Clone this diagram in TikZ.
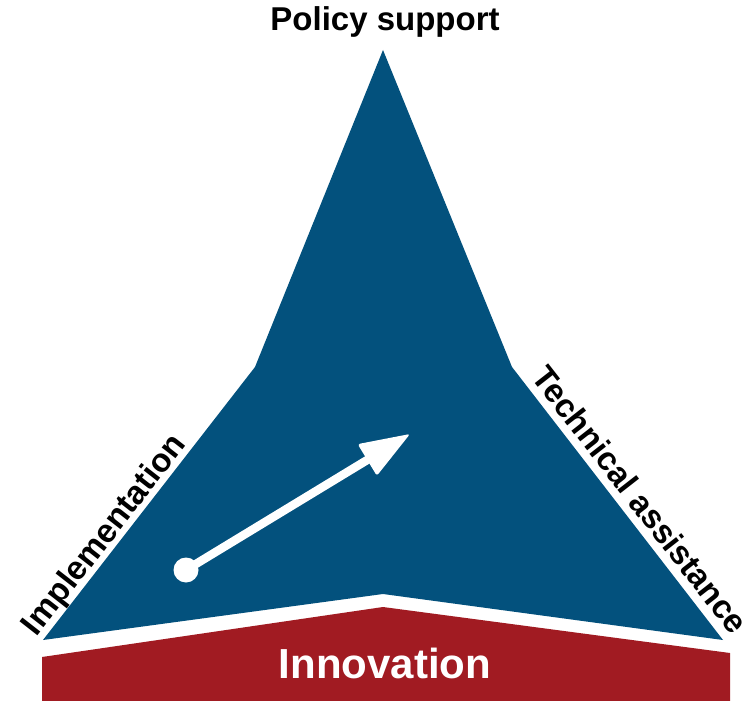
\documentclass[tikz,border=0pt]{standalone}
\usepackage{fontspec}
\setmainfont{Liberation Sans}
\usetikzlibrary{calc}
\definecolor{tblue}{RGB}{3,81,125}
\definecolor{tred}{RGB}{161,27,34}
\begin{document}
\begin{tikzpicture}[x=1pt,y=-1pt,
  lbl/.style={font=\fontsize{33}{36}\selectfont\bfseries, inner sep=0pt, text=black, anchor=base},
  bigwhite/.style={font=\fontsize{42}{46}\selectfont\bfseries, inner sep=0pt, text=white, anchor=base}]
\useasboundingbox (0,0) rectangle (753,701);
% blue star-triangle
\fill[tblue] (383,50) -- (512,367) -- (723,640) -- (383,594) -- (43,640) -- (255,367) -- cycle;
% red base
\fill[tred] (42,657) -- (383,607) -- (730,653) -- (730,701) -- (42,701) -- cycle;
% labels
\node[lbl] (policy) at (385,31) {Policy support};
\node[lbl, rotate=52] (impl) at (112,541) {Implementation};
\node[lbl, rotate=-52] (tech) at (631,507) {Technical assistance};
\node[bigwhite] (innov) at (385,678) {Innovation};
% arrow
\coordinate (astart) at (186,570);
\coordinate (atip) at (410,434);
\coordinate (hb) at ($(atip)!50pt!(astart)$);
\coordinate (w1) at ($(hb)!18.5pt!90:(atip)$);
\coordinate (w2) at ($(hb)!18.5pt!-90:(atip)$);
\fill[white] (astart) circle (12.5);
\draw[white, line width=8.5pt] (astart) -- ($(atip)!42pt!(astart)$);
\fill[white, rounded corners=2.5pt] (atip) -- (w1) -- (w2) -- cycle;
\end{tikzpicture}
\end{document}
